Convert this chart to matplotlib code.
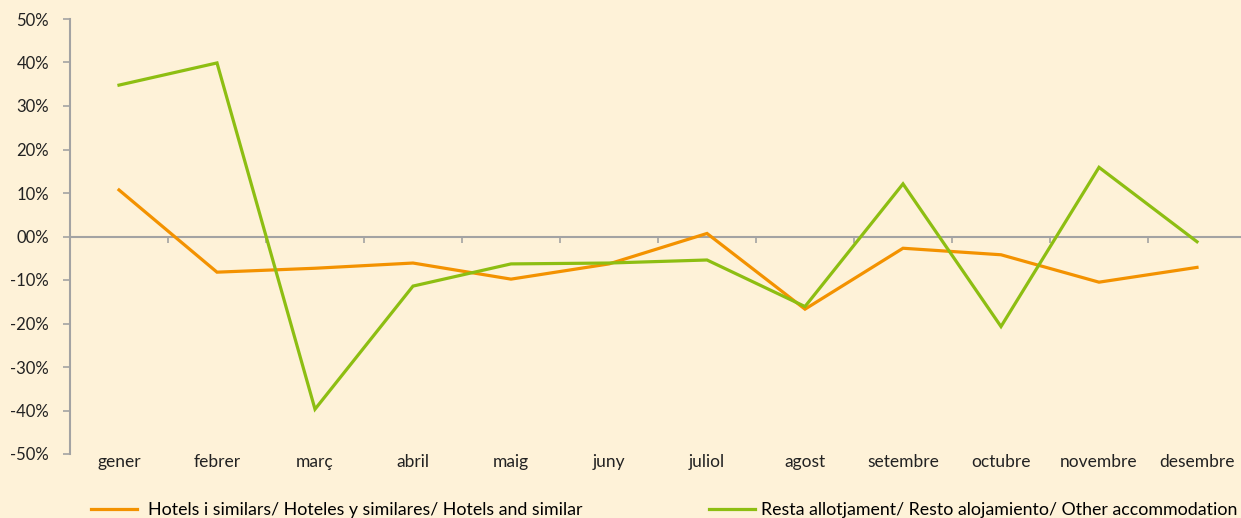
import numpy as np
import matplotlib
matplotlib.use("Agg")
import matplotlib.pyplot as plt

# monthly variation (%)
months = ["gener", "febrer", "març", "abril", "maig", "juny", "juliol",
          "agost", "setembre", "octubre", "novembre", "desembre"]
hotels = [10.7, -8.2, -7.3, -6.1, -9.8, -6.3, 0.7, -16.7, -2.7, -4.2, -10.5, -7.1]
resta = [34.8, 39.9, -39.7, -11.4, -6.3, -6.1, -5.4, -16.1, 12.1, -20.7, 15.9, -1.2]
yticks = [50, 40, 30, 20, 10, 0, -10, -20, -30, -40, -50]
ytick_labels = ["50%", "40%", "30%", "20%", "10%", "00%", "-10%", "-20%", "-30%", "-40%", "-50%"]

label_hotels = "Hotels i similars/ Hoteles y similares/ Hotels and similar"
label_resta = "Resta allotjament/ Resto alojamiento/ Other accommodation"

bg = "#FEF2D8"
orange = "#F39200"
green = "#8DBE12"
grey = "#A3A3A3"

plt.rcParams["font.family"] = ["Lato", "DejaVu Sans"]

fig = plt.figure(figsize=(12.41, 5.18), dpi=100, facecolor=bg)
ax = fig.add_axes([70 / 1241, 1 - 454 / 518, 1176 / 1241, (454 - 19) / 518])
ax.set_facecolor(bg)

x = np.arange(len(months))
l1, = ax.plot(x, hotels, color=orange, lw=2.3, solid_joinstyle="miter")
l2, = ax.plot(x, resta, color=green, lw=2.3, solid_joinstyle="miter")

ax.set_xlim(-0.5, len(months) - 0.5)
ax.set_ylim(-50, 50)
ax.set_yticks(yticks)
ax.set_yticklabels(ytick_labels, fontsize=12, color="#222222")
ax.tick_params(axis="y", direction="out", length=5, width=1.2, color=grey, pad=10)

# category labels at the bottom, no marks
ax.set_xticks(x)
ax.set_xticklabels(months, fontsize=12.5, color="#222222")
ax.tick_params(axis="x", length=0, pad=0)

for s in ["top", "right", "bottom"]:
    ax.spines[s].set_visible(False)
ax.spines["left"].set_color(grey)
ax.spines["left"].set_linewidth(1.5)

# zero line with category separators
ax.axhline(0, color=grey, lw=1.5, zorder=1)
sec = ax.secondary_xaxis(0.5)
sec.set_xticks(np.arange(len(months) + 1) - 0.5)
sec.set_xticklabels([])
sec.tick_params(direction="in", length=5, width=1.2, color=grey)
for s in sec.spines.values():
    s.set_visible(False)

fig.legend([l1], [label_hotels], loc="center left", bbox_to_anchor=(91 / 1241, 1 - 510 / 518),
           frameon=False, fontsize=12.8, handlelength=2.6, handletextpad=0.6,
           borderpad=0, borderaxespad=0)
fig.legend([l2], [label_resta], loc="center left", bbox_to_anchor=(709 / 1241, 1 - 510 / 518),
           frameon=False, fontsize=12.8, handlelength=2.6, handletextpad=0.3,
           borderpad=0, borderaxespad=0)

fig.savefig("out.png", dpi=100, facecolor=bg)
